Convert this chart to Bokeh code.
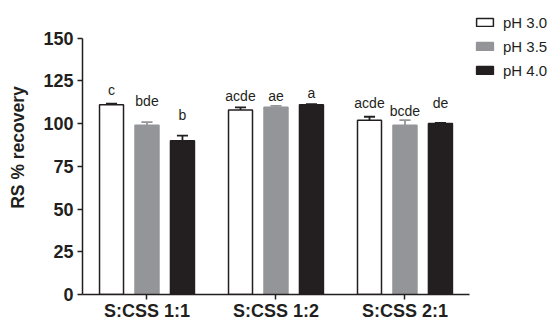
from bokeh.plotting import figure
from bokeh.models import ColumnDataSource, Legend, LegendItem, FixedTicker
from bokeh.core.properties import value
from bokeh.embed import file_html
from bokeh.resources import INLINE

groups = ["S:CSS 1:1", "S:CSS 1:2", "S:CSS 2:1"]
ph_levels = ["pH 3.0", "pH 3.5", "pH 4.0"]

mean_ph30 = [111, 108, 102]
mean_ph35 = [99, 109.5, 99]
mean_ph40 = [90, 111, 100]

err_ph30 = [0.6, 1.5, 2.0]
err_ph35 = [1.8, 0.8, 3.0]
err_ph40 = [3.0, 0.4, 0.4]

letters_ph30 = ["c", "acde", "acde"]
letters_ph35 = ["bde", "ae", "bcde"]
letters_ph40 = ["b", "a", "de"]

letter_y_ph30 = [119.5, 116, 112]
letter_y_ph35 = [113, 116, 107.6]
letter_y_ph40 = [104.8, 117.8, 112]

y_ticks = [0, 25, 50, 75, 100, 125, 150]

FONT = "Liberation Sans"
INK = "#231f20"

n = len(groups)
centers = [i + 0.5 for i in range(n)]

p = figure(x_range=(0, 3.636), y_range=(0, 172), width=551, height=323,
           output_backend="svg", toolbar_location=None,
           min_border_left=82, min_border_right=0, min_border_top=0, min_border_bottom=27)

p.xgrid.visible = False
p.ygrid.visible = False
p.outline_line_color = None
p.background_fill_color = "white"
p.border_fill_color = "white"

for ax in (p.xaxis, p.yaxis):
    ax.axis_line_color = INK
    ax.axis_line_width = 1.5
    ax.major_tick_line_color = INK
    ax.major_tick_line_width = 1.5
    ax.major_tick_out = 5
    ax.major_tick_in = 0
    ax.minor_tick_line_color = None
    ax.major_label_text_font = FONT
    ax.major_label_text_font_style = "bold"
    ax.major_label_text_color = INK

p.xaxis.bounds = (0, n)
p.xaxis.ticker = FixedTicker(ticks=centers)
p.xaxis.major_label_overrides = {c: g for c, g in zip(centers, groups)}
p.xaxis.major_label_text_font_size = "18px"
p.xaxis.major_label_standoff = 1

p.yaxis.bounds = (0, 150)
p.yaxis.ticker = FixedTicker(ticks=y_ticks)
p.yaxis.major_label_text_font_size = "18px"
p.yaxis.major_label_standoff = 4
p.yaxis.axis_label = "RS % recovery"
p.yaxis.axis_label_text_font = FONT
p.yaxis.axis_label_text_font_style = "bold"
p.yaxis.axis_label_text_font_size = "17.5px"
p.yaxis.axis_label_text_color = INK
p.yaxis.axis_label_standoff = 12

offsets = [-0.275, 0.0, 0.275]
bar_w = 0.186
cap = 0.043
fills = ["white", "#949598", INK]
lines = [INK, "#949598", INK]
means = [mean_ph30, mean_ph35, mean_ph40]
errs = [err_ph30, err_ph35, err_ph40]
letters = [letters_ph30, letters_ph35, letters_ph40]
letter_ys = [letter_y_ph30, letter_y_ph35, letter_y_ph40]

items = []
for ph, off, fc, lc, m, e, lab, ly in zip(ph_levels, offsets, fills, lines, means, errs, letters, letter_ys):
    xs = [c + off for c in centers]
    src = ColumnDataSource(dict(x=xs, xl=[x - cap for x in xs], xr=[x + cap for x in xs],
                                mean=m, top=[a + b for a, b in zip(m, e)],
                                label=lab, ly=ly))
    p.segment(x0="x", y0="mean", x1="x", y1="top", source=src, line_color=lc, line_width=1.8)
    p.segment(x0="xl", y0="top", x1="xr", y1="top", source=src, line_color=lc, line_width=1.8)
    r = p.vbar(x="x", top="mean", bottom=0, width=bar_w, source=src,
               fill_color=fc, line_color=lc, line_width=1.5)
    p.text(x="x", y="ly", text="label", source=src, text_align="center",
           text_baseline="alphabetic", text_font=value(FONT), text_font_size="14px",
           text_color=INK)
    items.append(LegendItem(label=ph, renderers=[r]))

legend = Legend(items=items, location=(392, 214), orientation="vertical",
                glyph_width=21, glyph_height=10, label_height=20, spacing=4,
                label_standoff=8, padding=0, margin=0,
                label_text_font=FONT, label_text_font_size="15px", label_text_color=INK,
                background_fill_alpha=0, border_line_color=None)
p.add_layout(legend)

open("out.html", "w").write(file_html(p, INLINE))
